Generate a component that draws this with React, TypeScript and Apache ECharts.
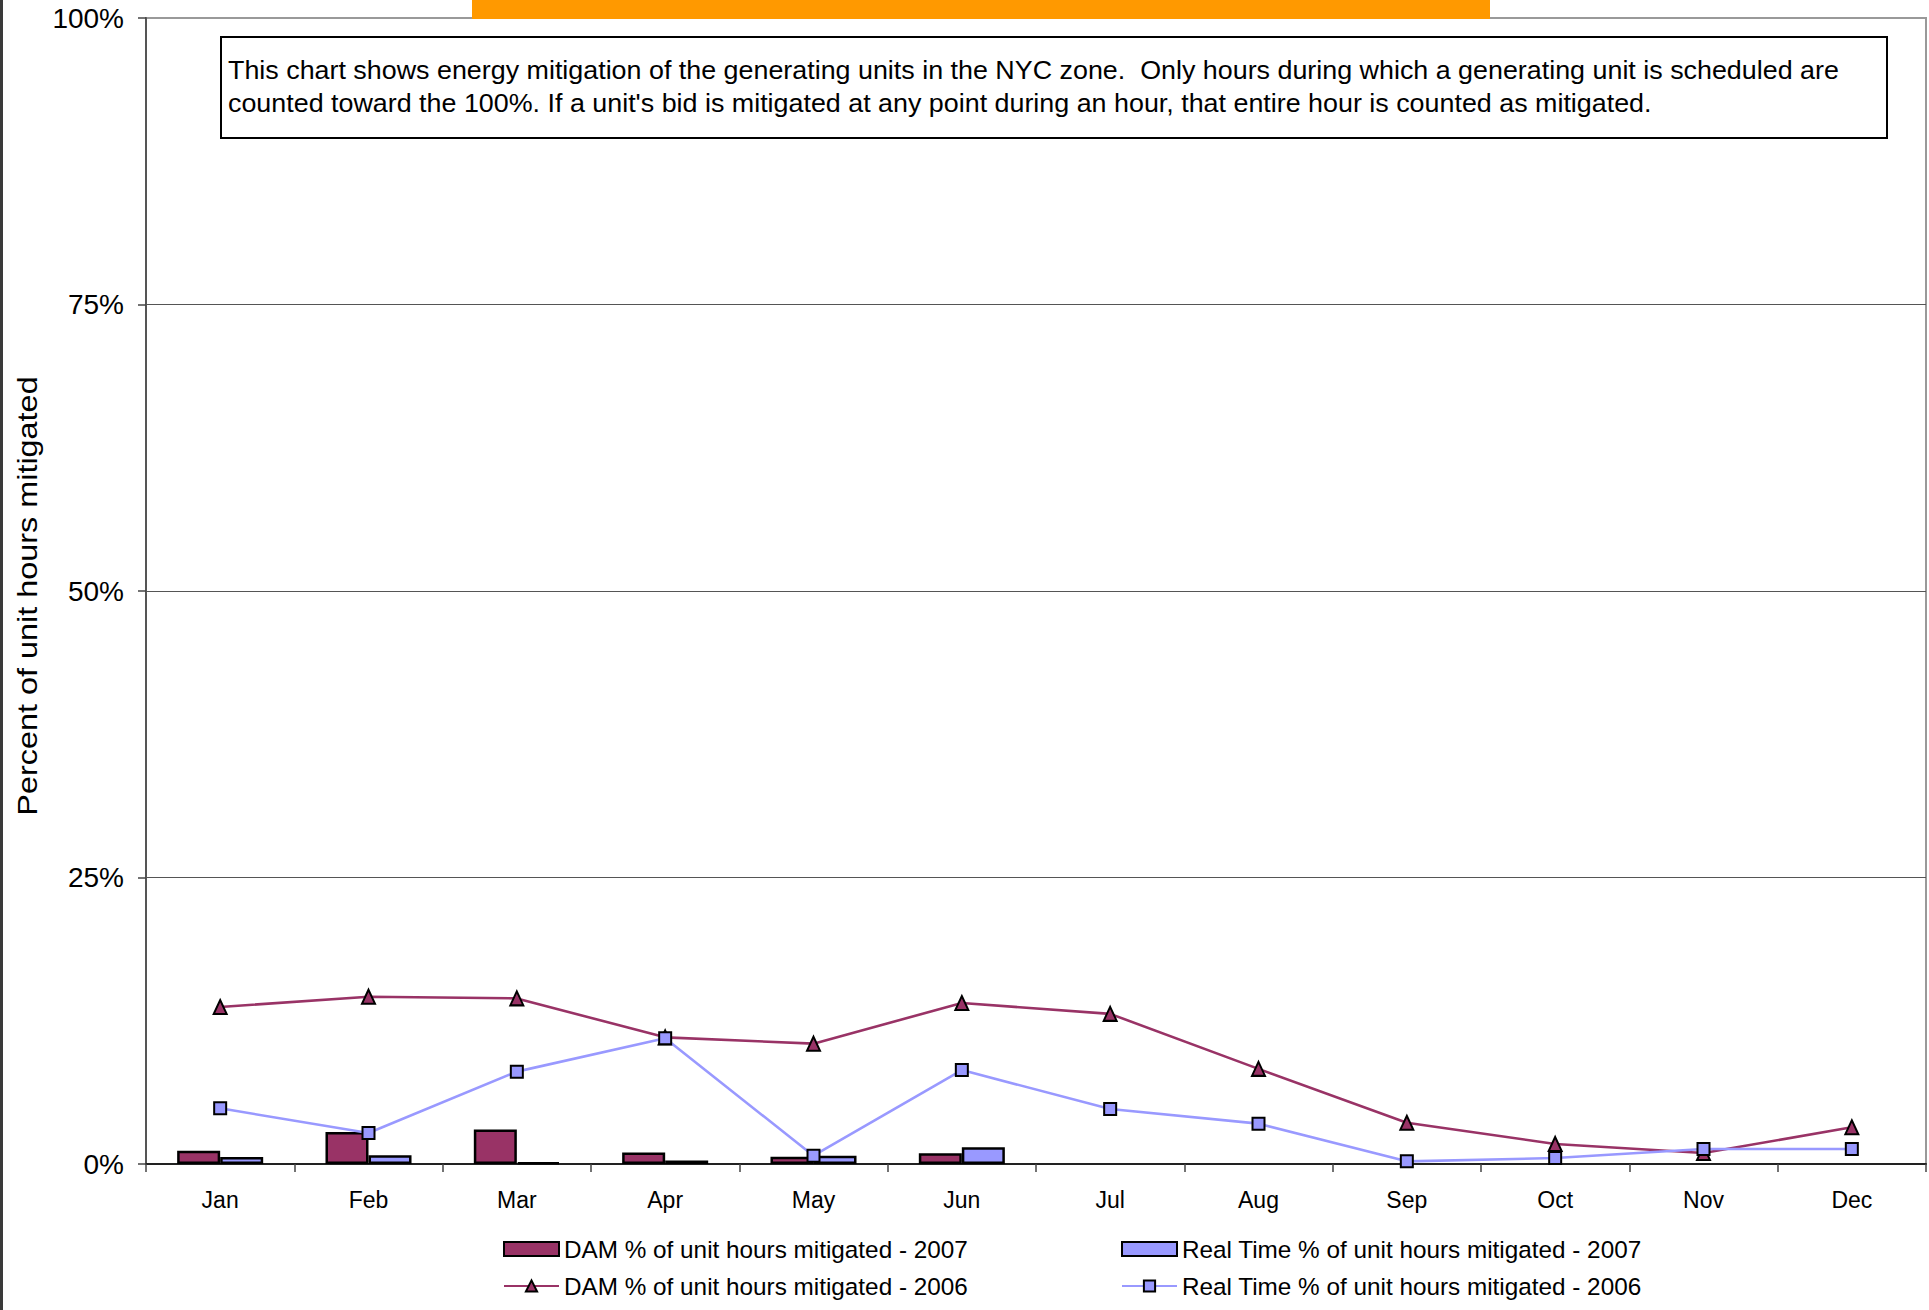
import React, { useEffect, useRef } from "react";
import * as echarts from "echarts";

const months = ["Jan", "Feb", "Mar", "Apr", "May", "Jun", "Jul", "Aug", "Sep", "Oct", "Nov", "Dec"];
const yTicks = [0, 25, 50, 75, 100];

const dam2007 = [1.16, 2.8, 3.0, 1.0, 0.64, 0.93, null, null, null, null, null, null];
const rt2007 = [0.6, 0.77, 0.15, 0.3, 0.72, 1.46, null, null, null, null, null, null];
const dam2006 = [13.7, 14.6, 14.45, 11.05, 10.5, 14.05, 13.1, 8.3, 3.6, 1.75, 0.96, 3.2];
const rt2006 = [4.86, 2.7, 8.06, 10.97, 0.72, 8.2, 4.8, 3.52, 0.23, 0.52, 1.31, 1.31];

const names = [
  "DAM % of unit hours mitigated - 2007",
  "Real Time % of unit hours mitigated - 2007",
  "DAM % of unit hours mitigated - 2006",
  "Real Time % of unit hours mitigated - 2006",
];

const noteLines = [
  "This chart shows energy mitigation of the generating units in the NYC zone.  Only hours during which a generating unit is scheduled are",
  "counted toward the 100%. If a unit's bid is mitigated at any point during an hour, that entire hour is counted as mitigated.",
];

const yTitle = "Percent of unit hours mitigated";

const FONT = "'Liberation Sans', Arial, sans-serif";
const PLUM = "#993366";
const LAV = "#9999FF";

export default function App() {
  const ref = useRef<HTMLDivElement>(null);
  useEffect(() => {
    document.body.style.margin = "0";
    const chart = echarts.init(ref.current!, null, { renderer: "svg" });
    const legendBase = {
      orient: "horizontal",
      padding: 0,
      itemWidth: 55,
      itemHeight: 14,
      itemGap: 0,
      textStyle: { fontSize: 24.3, fontFamily: FONT, color: "#000" },
    };
    chart.setOption({
      animation: false,
      backgroundColor: "#fff",
      textStyle: { fontFamily: FONT },
      grid: {
        left: 146,
        right: 3,
        top: 18,
        bottom: 146,
        show: true,
        borderColor: "#999",
        borderWidth: 2,
        backgroundColor: "transparent",
      },
      legend: [
        { ...legendBase, data: [{ name: names[0], icon: "rect" }], left: 503, top: 1237 },
        { ...legendBase, data: [{ name: names[1], icon: "rect" }], left: 1121, top: 1237 },
        { ...legendBase, data: [names[2]], left: 503, top: 1274 },
        { ...legendBase, data: [names[3]], left: 1121, top: 1274 },
      ],
      xAxis: {
        type: "category",
        data: months,
        boundaryGap: true,
        axisLine: { lineStyle: { color: "#222", width: 2 } },
        axisTick: { show: true, length: 8, lineStyle: { color: "#444", width: 1.5 } },
        axisLabel: { fontSize: 23, color: "#000", margin: 24, fontFamily: FONT },
        splitLine: { show: false },
      },
      yAxis: {
        type: "value",
        min: 0,
        max: 100,
        interval: 25,
        axisLine: { show: true, lineStyle: { color: "#555", width: 2 } },
        axisTick: { show: true, length: 8, lineStyle: { color: "#444", width: 1.5 } },
        axisLabel: {
          fontSize: 28,
          color: "#000",
          margin: 22,
          fontFamily: FONT,
          formatter: (v: number) => (yTicks.includes(v) ? v + "%" : ""),
        },
        splitLine: { show: true, showMinLine: false, showMaxLine: false, lineStyle: { color: "#555", width: 1 } },
      },
      series: [
        {
          name: names[0],
          type: "bar",
          data: dam2007,
          barGap: "0%",
          barCategoryGap: "42%",
          itemStyle: { color: PLUM, borderColor: "#000", borderWidth: 2.5 },
          z: 2,
        },
        {
          name: names[1],
          type: "bar",
          data: rt2007,
          barGap: "0%",
          barCategoryGap: "42%",
          itemStyle: { color: LAV, borderColor: "#000", borderWidth: 2.5 },
          z: 2,
        },
        {
          name: names[2],
          type: "line",
          data: dam2006,
          symbol: "triangle",
          symbolSize: [13, 14],
          showAllSymbol: true,
          lineStyle: { color: PLUM, width: 2.6 },
          itemStyle: { color: PLUM, borderColor: "#000", borderWidth: 2 },
          z: 3,
        },
        {
          name: names[3],
          type: "line",
          data: rt2006,
          symbol: "rect",
          symbolSize: [12, 12],
          showAllSymbol: true,
          lineStyle: { color: LAV, width: 2.6 },
          itemStyle: { color: LAV, borderColor: "#000", borderWidth: 2 },
          z: 4,
        },
      ],
      graphic: [
        { type: "rect", shape: { x: 0, y: 0, width: 3, height: 1310 }, style: { fill: "#3a3a3a" }, z: 10 },
        { type: "rect", shape: { x: 472, y: 0, width: 1018, height: 19 }, style: { fill: "#FF9900" }, z: 10 },
        {
          type: "rect",
          shape: { x: 221, y: 37, width: 1666, height: 101 },
          style: { fill: "#fff", stroke: "#000", lineWidth: 2 },
          z: 10,
        },
        {
          type: "text",
          x: 228,
          y: 70,
          scaleX: 1.075,
          style: { text: noteLines[0], fontSize: 25, fontFamily: FONT, fill: "#000", align: "left", verticalAlign: "middle" },
          z: 11,
        },
        {
          type: "text",
          x: 228,
          y: 103,
          scaleX: 1.075,
          style: { text: noteLines[1], fontSize: 25, fontFamily: FONT, fill: "#000", align: "left", verticalAlign: "middle" },
          z: 11,
        },
        {
          type: "text",
          x: 27,
          y: 596,
          rotation: Math.PI / 2,
          scaleX: 1.2,
          style: { text: yTitle, fontSize: 27, fontFamily: FONT, fill: "#000", align: "center", verticalAlign: "middle" },
          z: 11,
        },
      ],
    });
    return () => chart.dispose();
  }, []);
  return <div ref={ref} style={{ width: 1929, height: 1310 }} />;
}
